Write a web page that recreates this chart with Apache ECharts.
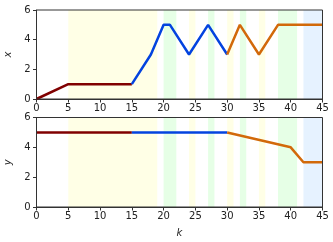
<!DOCTYPE html>
<html><head><meta charset="utf-8">
<script src="https://cdn.jsdelivr.net/npm/echarts@6/dist/echarts.min.js"></script>
<style>html,body{margin:0;padding:0;background:#fff}#c{width:333px;height:242px}</style>
</head><body><div id="c"></div>
<script>
// data
const xTicks = [0,5,10,15,20,25,30,35,40,45];
const kRed1 = [0,5,15];            const xRed = [0,1,1];
const kBlue1 = [15,18,20,21,24,27,30]; const xBlue = [1,3,5,5,3,5,3];
const kOrange1 = [30,32,35,38,45];  const xOrange = [3,5,3,5,5];
const kRed2 = [0,15];              const yRed = [5,5];
const kBlue2 = [15,30];            const yBlue = [5,5];
const kOrange2 = [30,40,42,45];    const yOrange = [5,4,3,3];
const yellowBands = [[5,19],[24,25],[30,31],[35,36]];
const greenBands = [[20,22],[27,28],[32,33],[38,41]];
const blueBands = [[42,45]];

const C_RED = '#800000', C_BLUE = '#0343df', C_ORANGE = '#d2690a';
const txt = '#222';
const font = 'DejaVu Sans';

function zip(a,b){return a.map((v,i)=>[v,b[i]]);}
function bands(list,color){return list.map(b=>[{xAxis:b[0],itemStyle:{color}},{xAxis:b[1]}]);}
const allBands = [].concat(bands(yellowBands,'#ffffe6'),bands(greenBands,'#e6ffe6'),bands(blueBands,'#e6f2ff'));

const grids = [
  {left:36.5, top:10, width:286, height:89, show:true, borderColor:'#333', borderWidth:1, z:5, outerBoundsMode:'none', containLabel:false},
  {left:36.5, top:117.5, width:286, height:89.5, show:true, borderColor:'#333', borderWidth:1, z:5, outerBoundsMode:'none', containLabel:false}
];
function xAx(i, name){
  return {type:'value', gridIndex:i, min:0, max:45, interval:5,
    name:name||'', nameLocation:'middle', nameGap:21,
    nameTextStyle:{fontFamily:font,fontSize:10,fontStyle:'italic',color:txt},
    axisLine:{show:true,onZero:false,lineStyle:{color:'#333',width:1}},
    axisTick:{show:true,length:3.5,lineStyle:{color:'#333'}},
    axisLabel:{fontFamily:font,fontSize:10,color:txt,margin:4},
    splitLine:{show:false}};
}
function yAx(i, name){
  return {type:'value', gridIndex:i, min:0, max:6, interval:2,
    name:name, nameLocation:'middle', nameGap:21, nameRotate:90,
    nameTextStyle:{fontFamily:font,fontSize:10,fontStyle:'italic',color:txt},
    axisLine:{show:true,onZero:false,lineStyle:{color:'#333',width:1}},
    axisTick:{show:true,length:3.5,lineStyle:{color:'#333'}},
    axisLabel:{fontFamily:font,fontSize:10,color:txt,margin:6},
    splitLine:{show:false}};
}
function line(xi, data, color){
  return {type:'line', xAxisIndex:xi, yAxisIndex:xi, data, symbol:'none',
    lineStyle:{color, width:2.5}, z:3, animation:false};
}
function bandSeries(xi){
  return {type:'line', xAxisIndex:xi, yAxisIndex:xi, data:[], z:1, silent:true,
    markArea:{silent:true, data:allBands, itemStyle:{opacity:1}}, animation:false};
}
const chart = echarts.init(document.getElementById('c'), null, {renderer:'canvas'});
chart.setOption({
  animation:false,
  grid:grids,
  xAxis:[xAx(0), xAx(1,'k')],
  yAxis:[yAx(0,'x'), yAx(1,'y')],
  series:[
    bandSeries(0), bandSeries(1),
    line(0, zip(kRed1,xRed), C_RED),
    line(0, zip(kBlue1,xBlue), C_BLUE),
    line(0, zip(kOrange1,xOrange), C_ORANGE),
    line(1, zip(kRed2,yRed), C_RED),
    line(1, zip(kBlue2,yBlue), C_BLUE),
    line(1, zip(kOrange2,yOrange), C_ORANGE)
  ]
});
</script></body></html>
